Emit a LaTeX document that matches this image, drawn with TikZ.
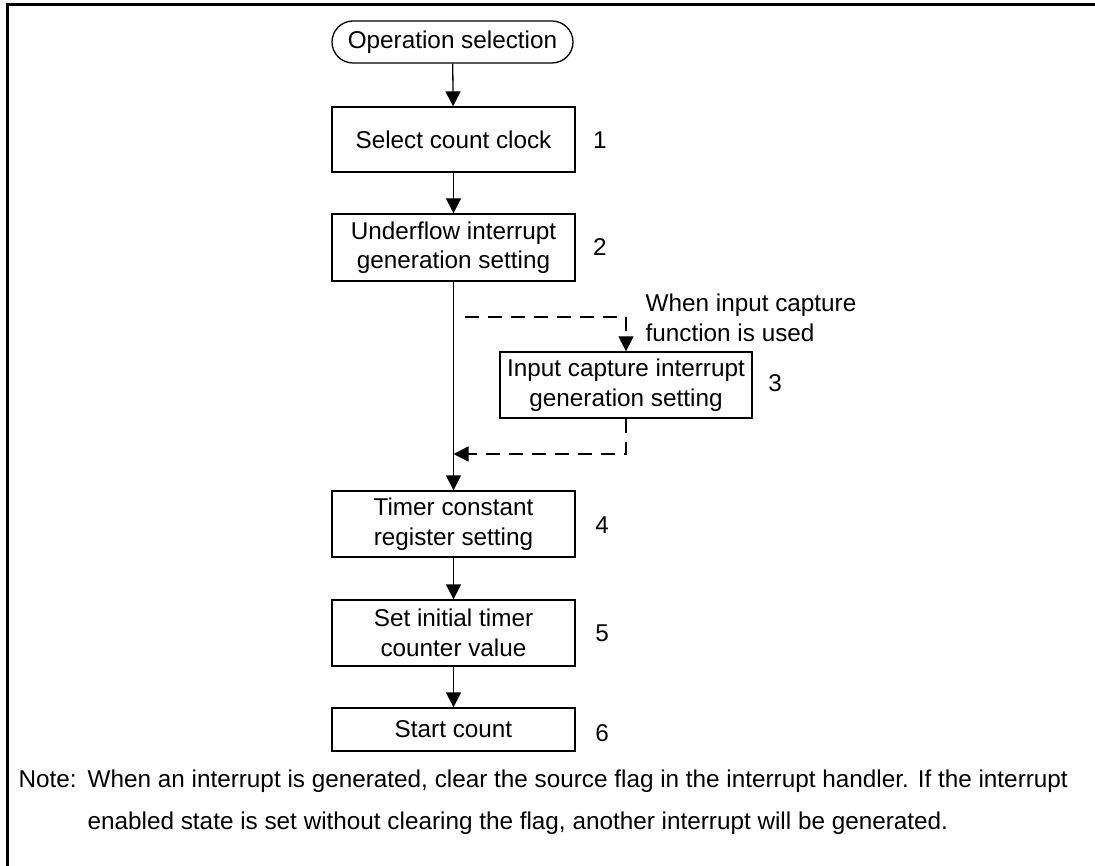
\documentclass[tikz,border=0pt]{standalone}
\usepackage{fontspec}
\setmainfont{Liberation Sans}
\usetikzlibrary{arrows.meta}
\begin{document}
\begin{tikzpicture}[x=1pt,y=-1pt,
  font=\fontsize{24.3}{29.5}\selectfont,
  line width=1.3pt,
  stepbox/.style={draw,rectangle,minimum width=243pt,align=center,inner sep=0pt},
  termbox/.style={draw,rectangle,rounded corners=21pt,minimum width=241pt,minimum height=42pt,inner sep=0pt},
  numlab/.style={inner sep=0pt},
  arr/.style={-{Triangle[length=15pt,width=15pt]}},
  dsh/.style={dash pattern=on 14pt off 9pt}]
\useasboundingbox (0,0) rectangle (1095,866);
% frame
\draw[line width=3pt] (7,866) -- (7,5) -- (1095,5);
% nodes
\node[termbox] (start) at (452.5,42) {Operation selection};
\node[stepbox,minimum height=65pt] (b1) at (453.5,139.5) {Select count clock};
\node[stepbox,minimum height=67pt] (b2) at (453.5,247.5) {Underflow interrupt\\generation setting};
\node[stepbox,minimum width=252pt,minimum height=66pt] (b3) at (626,385) {Input capture interrupt\\generation setting};
\node[stepbox,minimum height=66pt] (b4) at (453.5,524) {Timer constant\\register setting};
\node[stepbox,minimum height=66pt] (b5) at (453.5,633) {Set initial timer\\counter value};
\node[stepbox,minimum height=43pt] (b6) at (453.5,729.5) {Start count};
\node[numlab] (n1) at (600,140) {1};
\node[numlab] (n2) at (600,247) {2};
\node[numlab] (n3) at (775,383) {3};
\node[numlab] (n4) at (602,525) {4};
\node[numlab] (n5) at (602,633) {5};
\node[numlab] (n6) at (602,733) {6};
\node[anchor=west,align=left,inner sep=0pt] (cond) at (645,318) {When input capture\\function is used};
% connectors
\draw[arr] (start) -- (b1);
\draw[arr] (b1) -- (b2);
\draw[arr] (b2) -- (b4);
\draw[arr] (b4) -- (b5);
\draw[arr] (b5) -- (b6);
\coordinate (dstart) at (465,317);
\coordinate (dend) at (453.5,454);
\draw[arr,dsh] (dstart) -| (b3.north);
\draw[arr,dsh] (b3.south) |- (dend);
% note (base of a multi-line node is its last line)
\node[anchor=base west,inner sep=0pt] (notelab) at (18,787) {Note:};
\node[anchor=base west,inner sep=0pt,align=left] (note) at (87,829) {When an interrupt is generated, clear the source flag in the interrupt handler. If the interrupt\\[12.5pt]enabled state is set without clearing the flag, another interrupt will be generated.};
\end{tikzpicture}
\end{document}
